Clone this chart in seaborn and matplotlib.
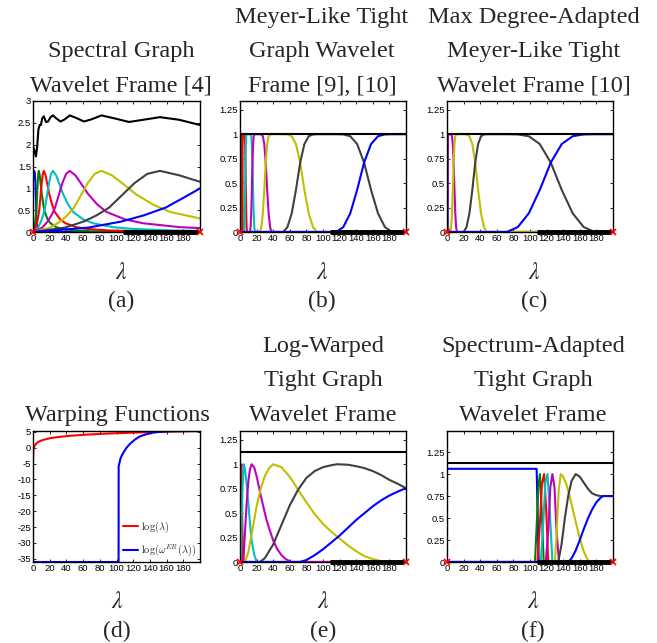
import matplotlib
matplotlib.use('Agg')
import matplotlib.pyplot as plt
import pandas as pd
import seaborn as sns

# matlab 'lines' order: scaling kernel first, then the wavelet kernels
kernel_names = ['h', 'g1', 'g2', 'g3', 'g4', 'g5', 'g6', 'g7']
colors = ['#0000ff', '#008000', '#ff0000', '#00bfbf', '#bf00bf', '#bfbf00', '#404040', '#0000ff']

xticks = [0, 20, 40, 60, 80, 100, 120, 140, 160, 180]
spec_lo, spec_hi = 108, 198      # where the eigenvalues sit on the axis
spec_ends = [0, 200]             # lambda_min, lambda_max

# (a) spectral graph wavelet frame
a_x = [
    [0, 1, 2, 3, 4, 5, 6, 200],
    [0, 1.75, 2.8, 3.5, 4.2, 4.9, 5.6, 6.3, 7, 8, 9.1, 10.5, 12.3, 14, 17.5, 21, 28, 35, 49, 70, 105, 200],
    [0, 3.3, 5.2, 6.5, 7.8, 9.1, 10.4, 11.7, 13, 15, 16.9, 19.5, 22.8, 26, 32.5, 39, 52, 65, 91, 130, 195, 200],
    [0, 6, 9.6, 12, 14.4, 16.8, 19.2, 21.6, 24, 27.6, 31.2, 36, 42, 48, 60, 72, 96, 120, 168, 200],
    [0, 11, 17.6, 22, 26.4, 30.8, 35.2, 39.6, 44, 50.6, 57.2, 66, 77, 88, 110, 132, 176, 200],
    [0, 20.5, 32.8, 41, 49.2, 57.4, 65.6, 73.8, 82, 94.3, 106.6, 123, 143.5, 164, 200],
    [0, 38, 60.8, 76, 91.2, 106.4, 121.6, 136.8, 152, 174.8, 200],
    [0, 66, 106, 132.5, 159, 185.5, 200],
]
a_y = [
    [1.4, 1.4, 1.38, 1.1, 0.4, 0.05, 0, 0],
    [0, 0.1, 0.24, 0.38, 0.56, 0.84, 1.12, 1.33, 1.4, 1.3, 1.12, 0.87, 0.63, 0.46, 0.29, 0.2, 0.11, 0.07, 0.035, 0.017, 0.007, 0],
    [0, 0.1, 0.24, 0.38, 0.56, 0.84, 1.12, 1.33, 1.4, 1.3, 1.12, 0.87, 0.63, 0.46, 0.29, 0.2, 0.11, 0.07, 0.035, 0.017, 0.007, 0.006],
    [0, 0.1, 0.24, 0.38, 0.56, 0.84, 1.12, 1.33, 1.4, 1.3, 1.12, 0.87, 0.63, 0.46, 0.29, 0.2, 0.11, 0.07, 0.035, 0.025],
    [0, 0.1, 0.24, 0.38, 0.56, 0.84, 1.12, 1.33, 1.4, 1.3, 1.12, 0.87, 0.63, 0.46, 0.29, 0.2, 0.11, 0.09],
    [0, 0.1, 0.24, 0.38, 0.56, 0.84, 1.12, 1.33, 1.4, 1.3, 1.12, 0.87, 0.63, 0.46, 0.31],
    [0, 0.1, 0.24, 0.38, 0.56, 0.84, 1.12, 1.33, 1.4, 1.3, 1.15],
    [0, 0.1, 0.24, 0.38, 0.56, 0.84, 1.0],
]
a_sum_x = [0, 2, 3.5, 5, 6.5, 8, 9.5, 11, 13, 15.5, 18, 21, 24, 28, 33, 38, 44, 52, 61, 70, 82, 98, 115, 132, 152, 175, 200]
a_sum_y = [1.97, 1.85, 1.73, 1.95, 2.35, 2.45, 2.45, 2.6, 2.65, 2.52, 2.53, 2.63, 2.67, 2.6, 2.53, 2.58, 2.67, 2.61, 2.53, 2.58, 2.67, 2.6, 2.52, 2.57, 2.63, 2.57, 2.45]

meyer_up = [0, 0.05, 0.19, 0.43, 0.71, 0.9, 0.98, 0.998, 1]
meyer_down = meyer_up[::-1]

# (b) transition bands between consecutive kernels
b_edges = [
    [0.4, 0.525, 0.65, 0.775, 0.9, 1.025, 1.15, 1.275, 1.4],
    [2.0, 2.2, 2.4, 2.6, 2.8, 3.0, 3.2, 3.4, 3.6],
    [4.8, 5.25, 5.7, 6.15, 6.6, 7.05, 7.5, 7.95, 8.4],
    [12, 12.75, 13.5, 14.25, 15, 15.75, 16.5, 17.25, 18],
    [24, 25.75, 27.5, 29.25, 31, 32.75, 34.5, 36.25, 38],
    [52, 57.1, 62.3, 67.4, 72.5, 77.6, 82.8, 87.9, 93],
    [116, 124.4, 132.8, 141.1, 149.5, 157.9, 166.3, 174.6, 183],
]
b_sum = 1.0

# (c)
c_edges = [
    [0.02, 0.03, 0.04, 0.05, 0.06, 0.07, 0.08, 0.09, 0.1],
    [0.12, 0.13, 0.14, 0.15, 0.16, 0.17, 0.18, 0.19, 0.2],
    [0.22, 0.24, 0.26, 0.28, 0.3, 0.32, 0.34, 0.36, 0.38],
    [0.5, 0.625, 0.75, 0.875, 1.0, 1.125, 1.25, 1.375, 1.5],
    [4, 5, 6, 7, 8, 9, 10, 11, 12],
    [20, 23.5, 27, 30.5, 34, 37.5, 41, 44.5, 48],
    [72, 85.25, 98.5, 111.75, 125, 138.25, 151.5, 164.75, 178],
]
c_sum = 1.0

# (d) warping functions
d_red_x = [0, 0.02, 0.5, 1, 2, 3, 5, 8, 12, 20, 30, 45, 65, 90, 120, 160, 200]
d_red_y = [-36.04, -3.9, -0.69, 0, 0.69, 1.1, 1.61, 2.08, 2.48, 3.0, 3.4, 3.81, 4.17, 4.5, 4.79, 5.08, 5.3]
d_blue_x = [0, 102.5, 102.6, 105, 108, 112, 116, 122, 128, 136, 144, 155, 165, 180, 200]
d_blue_y = [-36.04, -36.04, -5.8, -3.2, -1.6, 0, 1.2, 2.6, 3.6, 4.3, 4.8, 5.1, 5.25, 5.3, 5.3]

# (e) log-warped
e_x = [
    [0, 0.3, 0.8, 200],
    [0, 0.3, 0.6, 1.0, 1.5, 2.0, 200],
    [0, 0.6, 1.0, 1.5, 2.2, 3.0, 4.0, 200],
    [0, 1, 2, 3, 4.5, 6, 8, 10, 12, 14, 17, 20, 200],
    [0, 4, 6, 8, 10, 12, 14, 17, 20, 24, 28, 32, 36, 40, 45, 50, 55, 62, 200],
    [0, 6, 10, 15, 20, 25, 30, 35, 40, 50, 60, 70, 80, 90, 100, 110, 120, 130, 140, 150, 160, 170, 178, 200],
    [0, 24, 30, 40, 50, 60, 70, 80, 90, 100, 110, 117, 130, 140, 150, 160, 170, 180, 190, 200],
    [0, 72, 80, 90, 100, 110, 120, 130, 140, 150, 160, 170, 180, 190, 200],
]
e_y = [
    [1, 1, 0, 0],
    [0, 0.4, 0.9, 1, 0.5, 0, 0],
    [0, 0, 0.5, 1, 0.7, 0.3, 0, 0],
    [0, 0, 0.35, 0.75, 1, 0.95, 0.8, 0.6, 0.4, 0.22, 0.08, 0, 0],
    [0, 0, 0.3, 0.6, 0.82, 0.95, 1, 0.97, 0.88, 0.72, 0.57, 0.43, 0.32, 0.22, 0.13, 0.07, 0.03, 0, 0],
    [0, 0, 0.1, 0.33, 0.57, 0.75, 0.88, 0.96, 1, 0.97, 0.87, 0.74, 0.61, 0.49, 0.39, 0.31, 0.24, 0.17, 0.11, 0.06, 0.03, 0.01, 0, 0],
    [0, 0, 0.04, 0.18, 0.38, 0.58, 0.74, 0.86, 0.93, 0.97, 0.99, 1, 0.995, 0.98, 0.96, 0.93, 0.89, 0.84, 0.8, 0.755],
    [0, 0, 0.02, 0.07, 0.13, 0.2, 0.27, 0.35, 0.43, 0.5, 0.57, 0.63, 0.68, 0.72, 0.755],
]
e_sum = 1.125

# (f) spectrum-adapted
f_x = [
    [0, 108, 110.5, 200],
    [0, 106, 108, 110, 112, 114, 116.5, 200],
    [0, 109, 112, 114.5, 117, 119.5, 122, 200],
    [0, 113, 116, 118.5, 121, 123.5, 127, 200],
    [0, 119, 122, 124.5, 127, 129.5, 132, 135, 200],
    [0, 130, 132, 134.5, 137, 140, 144, 148, 152, 156, 160, 164, 168, 172, 200],
    [0, 134, 138, 142, 146, 150, 155, 160, 165, 170, 175, 180, 185, 200],
    [0, 146, 150, 155, 160, 165, 170, 175, 180, 185, 188, 200],
]
f_y = [
    [1.06, 1.06, 0, 0],
    [0, 0, 0.4, 0.85, 1, 0.6, 0, 0],
    [0, 0, 0.45, 0.9, 1, 0.6, 0, 0],
    [0, 0, 0.45, 0.9, 1, 0.65, 0, 0],
    [0, 0, 0.35, 0.85, 1, 0.85, 0.35, 0, 0],
    [0, 0, 0.3, 0.8, 1, 0.97, 0.88, 0.74, 0.58, 0.42, 0.27, 0.14, 0.05, 0, 0],
    [0, 0, 0.2, 0.5, 0.75, 0.92, 1, 0.97, 0.9, 0.83, 0.78, 0.76, 0.75, 0.75],
    [0, 0, 0.04, 0.13, 0.25, 0.38, 0.5, 0.6, 0.68, 0.73, 0.75, 0.75],
]
f_sum = 1.125

W, H = 657, 643
serif = 'Liberation Serif'

sns.set_style('ticks')
plt.rcParams['font.family'] = ['Liberation Sans', 'DejaVu Sans']
plt.rcParams['axes.linewidth'] = 1.0

fig = plt.figure(figsize=(W / 100, H / 100), dpi=100)


def box(left, top, width, height):
    return fig.add_axes([left / W, 1 - (top + height) / H, width / W, height / H])


def meyer_curves(edges):
    xs = [[0] + edges[0] + [200]]
    ys = [[1] + meyer_down + [0]]
    for lo, hi in zip(edges[:-1], edges[1:]):
        xs.append([0] + lo + hi + [200])
        ys.append([0] + meyer_up + meyer_down + [0])
    xs.append([0] + edges[-1] + [200])
    ys.append([0] + meyer_up + [1])
    return xs, ys


def draw_kernels(ax, xs, ys):
    frames = [pd.DataFrame({'lam': x, 'g': y, 'k': kernel_names[i]})
              for i, (x, y) in enumerate(zip(xs, ys))]
    df = pd.concat(frames, ignore_index=True)
    sns.lineplot(data=df, x='lam', y='g', hue='k', hue_order=kernel_names,
                 palette=colors, sort=False, estimator=None, legend=False,
                 linewidth=1.5, ax=ax)


def draw_sum(ax, x, y):
    sns.lineplot(x=x, y=y, color='black', linewidth=1.5, sort=False, estimator=None, ax=ax)


def spectrum(ax):
    ax.plot([spec_lo, spec_hi], [0, 0], color='black', lw=3.5,
            solid_capstyle='butt', clip_on=False, zorder=5)
    ax.plot(spec_ends, [0, 0], 'x', color='red', ms=4, mew=1.2, clip_on=False, zorder=6)


def style(ax, ylim, yticks, ylabels):
    ax.set_xlim(0, 200)
    ax.set_ylim(*ylim)
    ax.set_xticks(xticks)
    ax.set_xticklabels([str(t) for t in xticks])
    ax.set_yticks(yticks)
    ax.set_yticklabels(ylabels)
    ax.set_xlabel('')
    ax.set_ylabel('')
    ax.tick_params(direction='in', top=True, right=True, length=2.5, width=0.6,
                   pad=1.5, labelsize=6.8, colors='black')
    for s in ax.spines.values():
        s.set_visible(True)
        s.set_color('black')
        s.set_linewidth(1.0)


def captions(cx, last_base, title_lines, lam_base, tag_base, tag):
    n = len(title_lines)
    for i, line in enumerate(title_lines):
        fig.text(cx / W, 1 - (last_base - 34.5 * (n - 1 - i)) / H, line,
                 ha='center', va='baseline', family=serif, fontsize=17.5)
    fig.text(cx / W, 1 - lam_base / H, r'$\lambda$', ha='center', va='baseline',
             fontsize=17, math_fontfamily='stix')
    fig.text(cx / W, 1 - tag_base / H, tag, ha='center', va='baseline',
             family=serif, fontsize=17)


unit_ticks = [0, 0.25, 0.5, 0.75, 1, 1.25]
unit_labels = ['0', '0.25', '0.5', '0.75', '1', '1.25']

# (a)
ax = box(33, 101, 167, 131)
draw_kernels(ax, a_x, a_y)
draw_sum(ax, a_sum_x, a_sum_y)
spectrum(ax)
style(ax, (0, 3), [0, 0.5, 1, 1.5, 2, 2.5, 3], ['0', '0.5', '1', '1.5', '2', '2.5', '3'])
captions(121, 91.5, ['Spectral Graph', 'Wavelet Frame [4]'], 279, 307, '(a)')

# (b)
ax = box(240, 101, 166, 131)
bx, by = meyer_curves(b_edges)
draw_kernels(ax, bx, by)
draw_sum(ax, [0, 200], [b_sum, b_sum])
spectrum(ax)
style(ax, (0, 1.34), unit_ticks, unit_labels)
captions(322, 91.5, ['Meyer-Like Tight', 'Graph Wavelet', 'Frame [9], [10]'], 279, 307, '(b)')

# (c)
ax = box(447, 101, 166, 131)
cx_, cy_ = meyer_curves(c_edges)
draw_kernels(ax, cx_, cy_)
draw_sum(ax, [0, 200], [c_sum, c_sum])
spectrum(ax)
style(ax, (0, 1.34), unit_ticks, unit_labels)
captions(534, 91.5, ['Max Degree-Adapted', 'Meyer-Like Tight', 'Wavelet Frame [10]'], 279, 307, '(c)')

# (d)
ax = box(33, 431, 167, 131)
sns.lineplot(x=d_red_x, y=d_red_y, color='red', linewidth=1.5, sort=False,
             estimator=None, ax=ax, label=r'$\log(\lambda)$')
sns.lineplot(x=d_blue_x, y=d_blue_y, color='blue', linewidth=1.5, sort=False,
             estimator=None, ax=ax, label=r'$\log(\omega^{ER}(\lambda))$')
style(ax, (-36.04, 5.3), [-35, -30, -25, -20, -15, -10, -5, 0, 5],
      ['-35', '-30', '-25', '-20', '-15', '-10', '-5', '0', '5'])
leg = ax.legend(loc='lower right', frameon=False, fontsize=7.5, handlelength=1.4,
                handletextpad=0.3, labelspacing=0.7, borderaxespad=0.15, borderpad=0.2)
for t in leg.get_texts():
    t.set_math_fontfamily('cm')
captions(117, 421, ['Warping Functions'], 608, 637, '(d)')

# (e)
ax = box(240, 431, 166, 131)
draw_kernels(ax, e_x, e_y)
draw_sum(ax, [0, 200], [e_sum, e_sum])
spectrum(ax)
style(ax, (0, 1.34), unit_ticks, unit_labels)
captions(323, 421, ['Log-Warped', 'Tight Graph', 'Wavelet Frame'], 608, 637, '(e)')

# (f)
ax = box(447, 431, 166, 131)
draw_kernels(ax, f_x, f_y)
draw_sum(ax, [0, 200], [f_sum, f_sum])
spectrum(ax)
style(ax, (0, 1.49), unit_ticks, unit_labels)
captions(533, 421, ['Spectrum-Adapted', 'Tight Graph', 'Wavelet Frame'], 608, 637, '(f)')

fig.savefig('out.png', dpi=100)
